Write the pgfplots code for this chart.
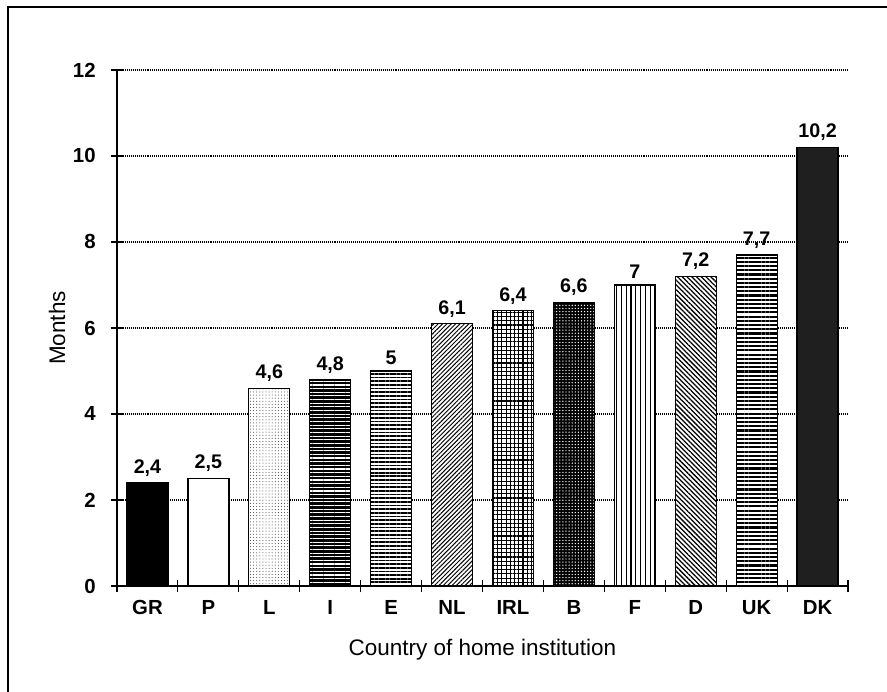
\documentclass[border=0pt]{standalone}
\usepackage{pgfplots}
\pgfplotsset{compat=1.18}
\usepackage{fontspec}
\setmainfont{Liberation Sans}
\usetikzlibrary{patterns.meta}
\begin{document}
\begin{tikzpicture}[x=0.25mm,y=0.25mm]
\path[use as bounding box] (0,0) rectangle (887,692);
\draw[line width=0.65mm] (8,0) -- (8,685) -- (887,685);
\begin{axis}[
  at={(29.25mm,26.5mm)}, anchor=south west,
  scale only axis, width=182.75mm, height=129mm,
  xmin=-0.5, xmax=11.5, ymin=0, ymax=12,
  axis x line*=bottom, axis y line*=left,
  axis line style={line width=0.8pt},
  ybar, bar width=10.25mm, bar shift=0pt,
  xtick={-0.5,0.5,...,11.5},
  xticklabels={},
  extra x ticks={0,...,11},
  extra x tick labels={GR,P,L,I,E,NL,IRL,B,F,D,UK,DK},
  extra x tick style={major tick length=0pt},
  xticklabel style={anchor=north, text height=3.6mm, text depth=0.4mm, yshift=-2.2mm},
  ytick={0,2,...,12},
  tick align=center,
  major tick length=3.2mm,
  tick style={line width=0.8pt,black},
  ymajorgrids, grid style={densely dotted, line width=0.8pt, black},
  tick label style={font=\fontsize{14.5}{16}\selectfont\bfseries},
  yticklabel style={xshift=-2.5mm},
  /pgf/number format/assume math mode=true,
  /pgf/number format/use comma,
  ylabel={Months},
  xlabel={Country of home institution},
  label style={font=\fontsize{16}{18}\selectfont},
  ylabel style={at={(axis description cs:-0.082,0.5)}, anchor=center, rotate=0},
  xlabel style={at={(axis description cs:0.5,-0.124)}, anchor=center},
  nodes near coords,
  every node near coord/.append style={font=\fontsize{14}{16}\selectfont\bfseries, yshift=0.3mm},
  every axis plot/.append style={draw=black, line width=0.9pt},
]
\addplot[fill=black] coordinates {(0,2.4)};
\addplot[fill=white] coordinates {(1,2.5)};
\addplot[fill=white, postaction={pattern={Dots[distance=2.2pt,radius=0.35pt]},pattern color=black!80}] coordinates {(2,4.6)};
\addplot[fill=black, postaction={pattern={Lines[angle=0,distance=2.6pt,line width=0.8pt]},pattern color=white}] coordinates {(3,4.8)};
\addplot[fill=white, postaction={pattern={Lines[angle=0,distance=2.6pt,line width=1.2pt]},pattern color=black}] coordinates {(4,5)};
\addplot[fill=white, postaction={pattern={Lines[angle=45,distance=2.2pt,line width=0.7pt]},pattern color=black}] coordinates {(5,6.1)};
\addplot[fill=white, postaction={pattern={Hatch[angle=0,distance=3pt,line width=0.8pt]},pattern color=black}] coordinates {(6,6.4)};
\addplot[fill=black, postaction={pattern={Dots[distance=2.2pt,radius=0.5pt]},pattern color=white}] coordinates {(7,6.6)};
\addplot[fill=white, postaction={pattern={Lines[angle=90,distance=3.4pt,line width=0.8pt]},pattern color=black}] coordinates {(8,7)};
\addplot[fill=white, postaction={pattern={Lines[angle=-45,distance=2.4pt,line width=0.9pt]},pattern color=black}] coordinates {(9,7.2)};
\addplot[fill=white, postaction={pattern={Lines[angle=0,distance=3pt,line width=1.5pt]},pattern color=black}] coordinates {(10,7.7)};
\addplot[fill=black!88] coordinates {(11,10.2)};
\end{axis}
\end{tikzpicture}
\end{document}
